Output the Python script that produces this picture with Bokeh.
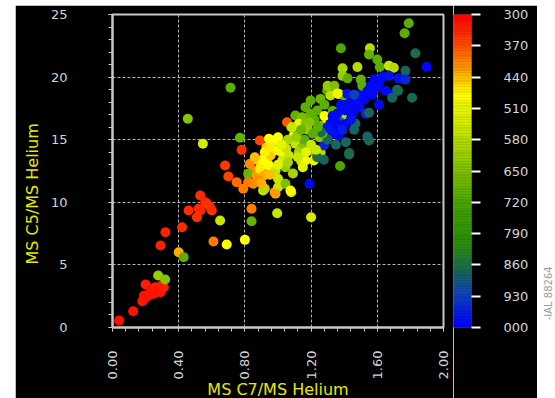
import numpy as np
from bokeh.plotting import figure
from bokeh.models import Range1d, FixedTicker, LinearColorMapper, ColumnDataSource, NumeralTickFormatter
from bokeh.layouts import row
from bokeh.embed import file_html
from bokeh.resources import INLINE
from bokeh.core.properties import value

# ---------------- data ----------------
x_vals = [
    0.04, 0.125, 0.18, 0.19, 0.20, 0.22, 0.20, 0.23, 0.25, 0.24, 0.26, 0.27, 0.29, 0.31, 0.30,
    0.276, 0.318, 0.29, 0.32, 0.42, 0.40, 0.43, 0.51, 0.46, 0.53, 0.60, 0.52, 0.59, 0.56, 0.53,
    0.61, 0.69, 0.65, 0.57,
    0.546, 0.455, 0.77, 0.89, 0.78, 0.68, 0.70, 0.75, 0.79, 0.83, 0.88, 0.85, 0.82, 0.87, 0.90,
    0.94, 0.98, 0.93, 0.82, 0.85, 0.91, 0.98, 1.03, 1.00, 1.08, 0.965, 1.00, 0.93, 0.98, 1.03,
    0.915, 0.955, 0.84, 0.84, 0.995, 0.80, 1.20, 0.713, 1.18, 1.19, 1.14,
    1.055, 0.945, 0.985, 0.955, 1.00, 0.92, 0.905, 0.945, 0.89, 0.915, 0.885, 0.985, 1.025, 1.065,
    1.045, 1.00, 1.045, 1.075, 0.92, 0.985, 1.105, 1.145, 1.125, 1.095, 1.166, 1.216, 1.21, 1.257,
    1.277, 1.237, 1.105, 1.146, 1.166, 1.126, 1.166, 1.197, 1.237, 1.197, 1.257, 1.297, 1.337,
    1.317, 1.367, 1.397, 1.267, 1.297, 1.347, 1.387, 1.317, 1.347, 1.297, 1.367, 1.327, 1.409,
    1.43, 1.468, 1.49, 1.45, 1.418, 1.51, 1.53, 1.55, 1.377, 1.468, 1.55, 1.43, 1.375, 1.277,
    1.06, 1.08, 1.12, 1.18, 1.22, 1.25, 1.16, 1.05, 1.20, 1.30, 1.27, 1.33, 1.28, 1.35, 1.38,
    1.79, 1.765, 1.83, 1.897, 1.38, 1.555, 1.55, 1.60, 1.39, 1.48, 1.615, 1.67, 1.70, 1.77, 1.73,
    1.77, 1.39, 1.50, 1.51, 1.58, 1.63, 1.67, 1.61, 1.56, 1.65, 1.69, 1.725, 1.81, 1.61, 1.54,
    1.50, 1.46, 1.55, 1.30, 1.34, 1.36, 1.54, 1.43, 1.72, 1.69, 1.42,
    1.33, 1.40, 1.36, 1.44, 1.42, 1.39, 1.31, 1.26, 1.085, 1.11, 1.14, 1.19, 1.21, 1.23, 1.17,
    1.02, 1.06, 1.12, 1.15, 1.09, 1.28, 1.24, 1.47, 1.52, 1.57, 1.60, 1.35, 1.46, 1.41, 0.86,
    0.95, 1.00, 0.90,
]
y_vals = [
    0.56, 1.30, 2.10, 2.56, 2.37, 2.56, 3.43, 2.82, 2.69, 3.09, 3.22, 2.95, 2.82, 3.22, 3.40,
    4.15, 3.83, 6.55, 7.61, 8.01, 6.01, 5.62, 8.81, 9.35, 9.35, 9.35, 9.48, 9.61, 10.00, 10.54,
    6.87, 6.63, 8.55, 9.90,
    14.67, 16.67, 15.15, 14.94, 14.19, 12.94, 12.06, 11.61, 11.08, 13.07, 13.34, 12.54, 12.28, 12.14, 12.80,
    13.07, 12.40, 12.28, 11.61, 11.48, 10.94, 10.81, 11.48, 11.20, 10.81, 14.94, 15.20, 14.40, 14.14, 13.87,
    13.47, 13.74, 9.48, 8.49, 9.13, 7.00, 8.81, 19.15, 14.94, 11.48, 13.28,
    16.40, 15.07, 14.94, 14.40, 14.14, 14.00, 13.34, 12.94, 12.67, 12.14, 11.74, 12.54, 13.34, 13.74,
    12.80, 11.88, 11.48, 10.94, 11.08, 10.68, 14.67, 14.40, 14.00, 15.34, 13.34, 13.34, 14.14, 14.00,
    14.54, 13.60, 16.93, 16.80, 17.60, 16.27, 16.27, 17.07, 17.33, 18.13, 18.26, 18.93, 19.20,
    18.53, 18.66, 18.53, 16.13, 16.67, 16.80, 16.93, 16.53, 16.00, 16.00, 15.34, 15.47, 17.33,
    17.87, 18.13, 17.60, 17.07, 18.66, 18.66, 17.07, 19.20, 16.40, 16.27, 14.94, 13.93, 12.90, 13.40,
    15.00, 16.00, 15.60, 15.80, 16.60, 15.20, 15.00, 14.30, 14.60, 15.00, 15.50, 17.30, 16.90, 16.40, 17.80,
    24.30, 23.50, 21.90, 20.80, 22.30, 22.30, 21.80, 21.40, 20.70, 20.80, 20.80, 20.90, 20.75, 20.50, 19.90,
    19.80, 20.10, 19.80, 19.30, 19.80, 20.00, 20.10, 19.55, 19.30, 18.90, 18.60, 18.90, 18.35, 17.80, 18.87,
    18.35, 18.60, 17.15, 19.30, 19.30, 18.70, 15.25, 13.82, 18.98, 18.35, 19.90,
    16.90, 16.20, 17.10, 16.60, 17.60, 15.80, 15.90, 15.60, 16.00, 15.20, 15.80, 16.40, 15.50, 14.20, 14.00,
    14.60, 13.20, 13.60, 12.80, 12.30, 17.80, 16.00, 17.50, 18.20, 18.60, 19.20, 14.60, 15.80, 14.80, 13.60,
    12.20, 13.00, 11.50,
]
temps = [
    310, 315, 320, 315, 320, 315, 325, 320, 320, 315, 325, 320, 320, 330, 325,
    620, 640, 330, 330, 340, 430, 700, 345, 340, 345, 350, 335, 340, 335, 340,
    400, 480, 560, 345,
    540, 640, 690, 360, 345, 350, 360, 390, 400, 410, 440, 410, 680, 420, 460,
    440, 420, 410, 400, 410, 560, 420, 650, 560, 540, 470, 480, 450, 470, 480,
    470, 450, 400, 690, 560, 480, 540, 700, 990, 990, 560,
    380, 480, 480, 470, 490, 470, 480, 480, 470, 430, 410, 560, 540, 560,
    620, 560, 650, 490, 580, 420, 560, 640, 600, 490, 490, 500, 650, 580,
    960, 870, 690, 660, 700, 500, 650, 690, 700, 700, 680, 700, 690,
    570, 500, 680, 660, 500, 680, 580, 990, 990, 980, 990, 980, 990,
    990, 990, 980, 990, 980, 990, 960, 990, 900, 880, 870, 870, 720, 880,
    600, 640, 660, 620, 700, 640, 700, 560, 560, 880, 700, 700, 480, 990, 990,
    700, 700, 870, 990, 720, 580, 690, 700, 600, 580, 700, 560, 580, 880, 980,
    960, 620, 690, 700, 990, 990, 980, 990, 990, 990, 990, 880, 870, 990, 990,
    990, 930, 880, 620, 650, 500, 880, 870, 870, 880, 700,
    990, 990, 990, 980, 990, 970, 980, 870, 560, 620, 680, 640, 700, 560, 520,
    520, 600, 560, 520, 600, 700, 700, 990, 990, 990, 990, 880, 880, 880, 440,
    440, 520, 430,
]

x_ticks = [0.0, 0.4, 0.8, 1.2, 1.6, 2.0]
y_ticks = [0, 5, 10, 15, 20, 25]
cbar_ticks = [300, 370, 440, 510, 580, 650, 720, 790, 860, 930, 1000]
cbar_labels = ["300", "370", "440", "510", "580", "650", "720", "790", "860", "930", "000"]
x_title = "MS C7/MS Helium"
y_title = "MS C5/MS Helium"
side_note = "-IAL 88264"

# ---------------- colour scale ----------------
anchor_v = [300, 360, 420, 480, 560, 650, 740, 820, 870, 930, 1000]
anchor_c = ["#ff0000", "#ff4000", "#ff9a00", "#ffff00", "#c8e600", "#80c000",
            "#40a000", "#2a8a10", "#1a6a50", "#1040c0", "#0000ff"]


def hex2rgb(h):
    return [int(h[i:i + 2], 16) for i in (1, 3, 5)]


rgb = np.array([hex2rgb(c) for c in anchor_c], dtype=float)
N = 200
edges = np.linspace(300, 1000, N + 1)
mids = (edges[:-1] + edges[1:]) / 2
pal = []
for v in mids:
    r = np.interp(v, anchor_v, rgb[:, 0])
    g = np.interp(v, anchor_v, rgb[:, 1])
    b = np.interp(v, anchor_v, rgb[:, 2])
    pal.append("#%02x%02x%02x" % (int(round(r)), int(round(g)), int(round(b))))

data_mapper = LinearColorMapper(palette=pal, low=300, high=1000)

FONT = "DejaVu Sans"
GRAY = "#d4d4d4"
FRAME = "#c8c8c8"
YELLOW = "#e8e800"
TOP = 9
FH = 313
BOTTOM = 71
H = TOP + FH + BOTTOM

p = figure(frame_width=331, frame_height=FH, x_range=Range1d(0, 2), y_range=Range1d(0, 25),
           toolbar_location=None, output_backend="svg",
           background_fill_color="black", border_fill_color="black",
           min_border_left=97, min_border_right=10, min_border_top=TOP, min_border_bottom=BOTTOM,
           outline_line_color=FRAME, outline_line_width=2)
p.margin = (5, 0, 0, 15)

src = ColumnDataSource(dict(x=x_vals, y=y_vals, t=temps))
p.scatter("x", "y", source=src, size=10, line_color=None,
          fill_color={"field": "t", "transform": data_mapper})

# axes
p.xaxis.ticker = FixedTicker(ticks=x_ticks, minor_ticks=list(np.round(np.arange(0, 2.001, 0.08), 2)))
p.xaxis.formatter = NumeralTickFormatter(format="0.00")
p.yaxis.ticker = FixedTicker(ticks=y_ticks, minor_ticks=list(range(0, 26)))
for ax in (p.xaxis[0], p.yaxis[0]):
    ax.axis_line_color = FRAME
    ax.axis_line_width = 2
    ax.major_tick_line_color = FRAME
    ax.minor_tick_line_color = FRAME
    ax.major_tick_in = 0
    ax.minor_tick_in = 0
    ax.major_tick_out = 4
    ax.minor_tick_out = 4
    ax.major_label_text_color = GRAY
    ax.major_label_text_font = FONT
    ax.major_label_text_font_size = "13px"
    ax.axis_label_text_color = YELLOW
    ax.axis_label_text_font = FONT
    ax.axis_label_text_font_size = "16px"
    ax.axis_label_text_font_style = "normal"

p.xaxis.major_label_orientation = np.pi / 2
p.xaxis.major_label_standoff = 19
p.xaxis.axis_label = x_title
p.xaxis.axis_label_standoff = -2
p.yaxis.major_label_standoff = 41
p.yaxis.axis_label = y_title + "\u00a0" * 9
p.yaxis.axis_label_standoff = 6

# grid
p.xgrid.ticker = FixedTicker(ticks=x_ticks[1:-1])
p.ygrid.ticker = FixedTicker(ticks=y_ticks[1:-1])
for g in (p.xgrid[0], p.ygrid[0]):
    g.grid_line_color = "#b4b4b4"
    g.grid_line_dash = "3 2"
    g.grid_line_width = 1

# colour bar as its own small figure (300 at top, 1000 at bottom)
cbf = figure(frame_width=18, frame_height=FH, x_range=Range1d(0, 1), y_range=Range1d(1000, 300),
             toolbar_location=None, output_backend="svg", y_axis_location="right",
             background_fill_color="black", border_fill_color="black",
             min_border_left=0, min_border_right=66, min_border_top=TOP, min_border_bottom=BOTTOM,
             outline_line_color=None)
cbf.margin = (5, 0, 0, 0)
cbf.quad(left=0, right=1, bottom=list(edges[:-1]), top=list(edges[1:]), fill_color=pal,
         line_color=pal, line_width=0.5)
cbf.xaxis.visible = False
cbf.grid.visible = False
cy = cbf.yaxis[0]
cy.ticker = FixedTicker(ticks=cbar_ticks, minor_ticks=[])
cy.major_label_overrides = {t: lab for t, lab in zip(cbar_ticks, cbar_labels)}
cy.axis_line_color = None
cy.major_tick_in = 0
cy.major_tick_out = 9
cy.major_tick_line_color = "white"
cy.major_tick_line_width = 2
cy.minor_tick_line_color = None
cy.major_label_standoff = 23
cy.major_label_text_color = GRAY
cy.major_label_text_font = FONT
cy.major_label_text_font_size = "13px"

# side note
tf = figure(width=18, height=H, x_range=Range1d(0, 18), y_range=Range1d(0, H),
            x_axis_location=None, y_axis_location=None,
            toolbar_location=None, output_backend="svg", min_border=0,
            outline_line_color=None, background_fill_color="white", border_fill_color="white")
tf.margin = (5, 0, 0, 0)
tf.grid.visible = False
tf.text(x=[16], y=[4], text=[side_note], angle=np.pi / 2, text_align="left",
        text_baseline="bottom", text_color="#9a9a9a", text_font=value(FONT),
        text_font_size="10px")

layout = row(p, cbf, tf)
open("out.html", "w").write(file_html(layout, INLINE))
